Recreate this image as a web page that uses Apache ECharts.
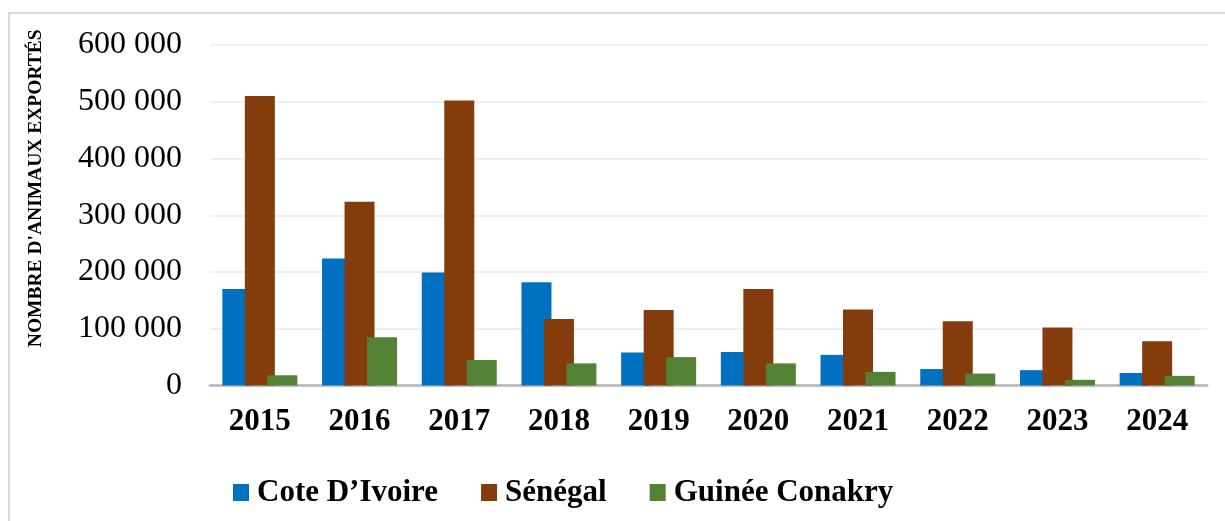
<!DOCTYPE html>
<html>
<head>
<meta charset="utf-8">
<script src="https://cdn.jsdelivr.net/npm/echarts@6/dist/echarts.min.js"></script>
<style>
  html, body { margin: 0; padding: 0; background: #fff; }
  #main { width: 1225px; height: 521px; }
</style>
</head>
<body>
<div id="main"></div>
<script>
// données
const years = ['2015', '2016', '2017', '2018', '2019', '2020', '2021', '2022', '2023', '2024'];
const coteIvoire = [170000, 224000, 199000, 182000, 58000, 59000, 54000, 29000, 27000, 22000];
const senegal = [510000, 324000, 502000, 117000, 133000, 170000, 134000, 113000, 102000, 78000];
const guinee = [18000, 85000, 45000, 39000, 50000, 39000, 24000, 21000, 10000, 17000];
const yTicks = [0, 100000, 200000, 300000, 400000, 500000, 600000];

const serif = '"Liberation Serif", "Times New Roman", serif';

function fmt(v) {
    return String(v).replace(/\B(?=(\d{3})+(?!\d))/g, ' ');
}

const chart = echarts.init(document.getElementById('main'));

const option = {
    animation: false,
    textStyle: { fontFamily: serif },
    graphic: [{
        type: 'rect',
        shape: { x: 9, y: 13, width: 1240, height: 540 },
        style: { fill: 'none', stroke: '#d9d9d9', lineWidth: 2 },
        silent: true
    }],
    grid: { left: 210, right: 18, top: 45, bottom: 135.5 },
    legend: {
        left: 233,
        top: 477,
        padding: 0,
        itemWidth: 16,
        itemHeight: 17,
        itemGap: 43,
        icon: 'rect',
        textStyle: { fontFamily: serif, fontWeight: 'bold', fontSize: 31, color: '#000', padding: [0, 0, 0, 3] },
        data: ['Cote D\u2019Ivoire', 'Sénégal', 'Guinée Conakry']
    },
    xAxis: {
        type: 'category',
        data: years,
        axisLine: { lineStyle: { color: '#bfbfbf', width: 3 } },
        axisTick: { show: false },
        axisLabel: { fontFamily: serif, fontWeight: 'bold', fontSize: 31, color: '#000', margin: 21 }
    },
    yAxis: {
        type: 'value',
        min: yTicks[0],
        max: yTicks[yTicks.length - 1],
        interval: yTicks[1] - yTicks[0],
        name: "NOMBRE D'ANIMAUX EXPORTÉS",
        nameLocation: 'middle',
        nameRotate: 90,
        nameGap: 164,
        nameTextStyle: { fontFamily: serif, fontWeight: 'bold', fontSize: 19.5, color: '#000', padding: [0, 0, 0, 54] },
        axisLine: { show: false },
        axisTick: { show: false },
        splitLine: { lineStyle: { color: '#efefef', width: 2 } },
        axisLabel: { fontFamily: serif, fontSize: 32, color: '#000', margin: 28, formatter: fmt }
    },
    series: [
        { name: 'Cote D\u2019Ivoire', type: 'bar', data: coteIvoire, barWidth: 30, barGap: '-25%', itemStyle: { color: '#0070c0' } },
        { name: 'Sénégal', type: 'bar', data: senegal, barWidth: 30, barGap: '-25%', itemStyle: { color: '#843c0c' } },
        { name: 'Guinée Conakry', type: 'bar', data: guinee, barWidth: 30, barGap: '-25%', itemStyle: { color: '#548235' } }
    ]
};

chart.setOption(option);
</script>
</body>
</html>
